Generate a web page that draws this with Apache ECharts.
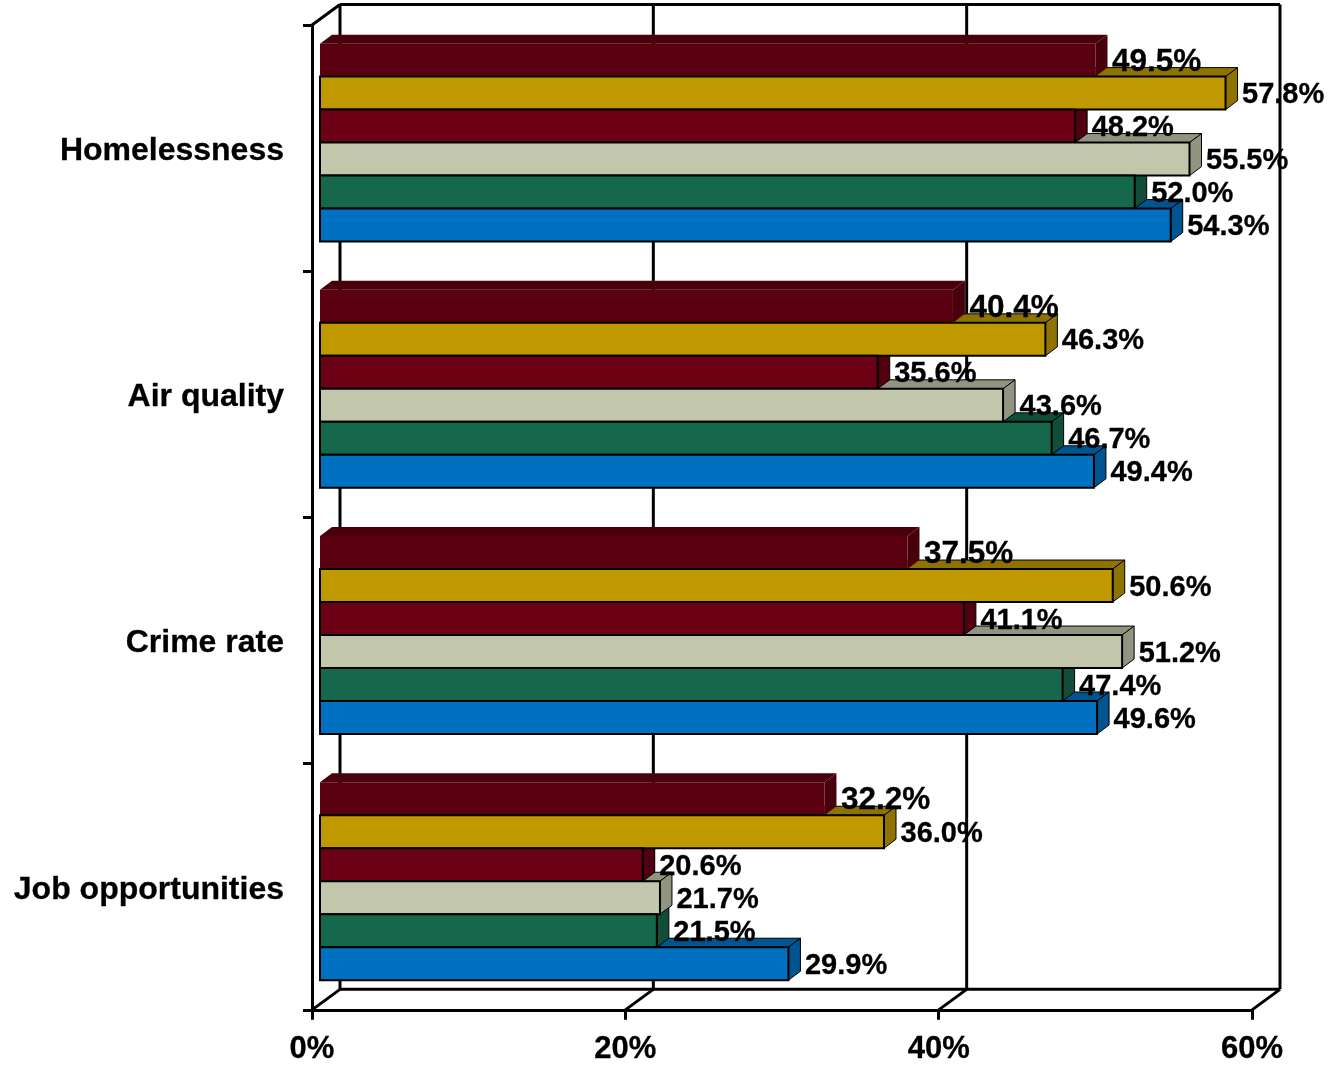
<!DOCTYPE html>
<html>
<head>
<meta charset="utf-8">
<style>html,body{margin:0;padding:0;background:#fff}#c{width:1332px;height:1065px}</style>
<script src="https://cdn.jsdelivr.net/npm/echarts@6/dist/echarts.min.js"></script>
</head>
<body>
<div id="c"></div>
<script>
const categories = ['Homelessness', 'Air quality', 'Crime rate', 'Job opportunities'];
const gridTicks = [0, 20, 40, 60];
const maroonValues = [49.5, 40.4, 37.5, 32.2];
const goldValues = [57.8, 46.3, 50.6, 36.0];
const redValues = [48.2, 35.6, 41.1, 20.6];
const beigeValues = [55.5, 43.6, 51.2, 21.7];
const greenValues = [52.0, 46.7, 47.4, 21.5];
const blueValues = [54.3, 49.4, 49.6, 29.9];

const seriesList = [
  { name: 'Series 1', values: maroonValues, front: '#5A0010', top: '#48000C', side: '#48000C', border: null, labelSize: 31.5 },
  { name: 'Series 2', values: goldValues, front: '#C09800', top: '#8F7300', side: '#8F7300', border: '#000', labelSize: 29 },
  { name: 'Series 3', values: redValues, front: '#6C0015', top: '#520010', side: '#520010', border: '#000', labelSize: 29 },
  { name: 'Series 4', values: beigeValues, front: '#C2C7AB', top: '#91957F', side: '#91957F', border: '#000', labelSize: 29 },
  { name: 'Series 5', values: greenValues, front: '#16684C', top: '#104E39', side: '#104E39', border: '#000', labelSize: 29 },
  { name: 'Series 6', values: blueValues, front: '#0070C0', top: '#005490', side: '#005490', border: '#000', labelSize: 29 }
];

const WALL_DX = 28, WALL_DY = 20.5;
const BAR_DX = 8, BAR_DY = 5.5, DEPTH_X = 12, DEPTH_Y = 9;
const BAR_RATIO = 0.134;
const FONT = '"Liberation Sans", Arial, sans-serif';

function wallRender(params, api) {
  const cs = params.coordSys;
  const v = api.value(0);
  const p = api.coord([v, 0]);
  const x = p[0];
  const bottom = cs.y + cs.height;
  const top = cs.y;
  const style = { stroke: '#000', lineWidth: 3, fill: null };
  const children = [
    { type: 'line', shape: { x1: x, y1: bottom, x2: x + WALL_DX, y2: bottom - WALL_DY }, style },
    { type: 'line', shape: { x1: x + WALL_DX, y1: top - WALL_DY, x2: x + WALL_DX, y2: bottom - WALL_DY }, style }
  ];
  if (params.dataIndex === 0) {
    const r = cs.x + cs.width + WALL_DX;
    children.push({ type: 'line', shape: { x1: x, y1: top, x2: x + WALL_DX, y2: top - WALL_DY }, style });
    children.push({ type: 'line', shape: { x1: x + WALL_DX, y1: top - WALL_DY, x2: r, y2: top - WALL_DY }, style });
    children.push({ type: 'line', shape: { x1: x + WALL_DX, y1: bottom - WALL_DY, x2: r, y2: bottom - WALL_DY }, style });
  }
  return { type: 'group', children };
}

function barRenderer(idx, s) {
  return function (params, api) {
    const v = api.value(0), c = api.value(1);
    const center = api.coord([0, c]);
    const band = api.size([0, 1])[1];
    const h = band * BAR_RATIO;
    const x0 = center[0] + BAR_DX;
    const x1 = api.coord([v, c])[0] + BAR_DX;
    const y0 = center[1] - BAR_DY + (idx - 3) * h;
    const y1 = y0 + h;
    const pts = (a) => ({ points: a });
    const edge = s.border ? { stroke: '#000', lineWidth: 1 } : { stroke: null };
    const frontEdge = s.border ? { stroke: '#000', lineWidth: 2 } : { stroke: null };
    return {
      type: 'group',
      children: [
        { type: 'polygon', z2: 10 + (5 - idx),
          shape: pts([[x0, y0], [x0 + DEPTH_X, y0 - DEPTH_Y], [x1 + DEPTH_X, y0 - DEPTH_Y], [x1, y0]]),
          style: Object.assign({ fill: s.top }, edge) },
        { type: 'polygon', z2: 10 + (5 - idx) + 0.5,
          shape: pts([[x1, y0], [x1 + DEPTH_X, y0 - DEPTH_Y], [x1 + DEPTH_X, y1 - DEPTH_Y], [x1, y1]]),
          style: Object.assign({ fill: s.side }, edge) },
        { type: 'rect', z2: 30 + idx,
          shape: { x: x0, y: y0, width: x1 - x0, height: h },
          style: Object.assign({ fill: s.front }, frontEdge) },
        { type: 'text', z2: 60,
          x: x1 + DEPTH_X + 4.5, y: (y0 + y1) / 2 + 2,
          style: { text: v.toFixed(1) + '%', fill: '#000', stroke: '#000', lineWidth: 0.3,
                   font: 'bold ' + s.labelSize + 'px ' + FONT,
                   textAlign: 'left', textVerticalAlign: 'middle' } }
      ]
    };
  };
}

const series = [{
  type: 'custom', name: 'wall', silent: true, z: 1,
  coordinateSystem: 'cartesian2d',
  data: gridTicks.map(t => [t]),
  encode: { x: 0 },
  renderItem: wallRender
}];
seriesList.forEach((s, i) => {
  series.push({
    type: 'custom', name: s.name, z: 3, silent: true,
    coordinateSystem: 'cartesian2d',
    data: s.values.map((v, c) => [v, c]),
    encode: { x: 0, y: 1 },
    renderItem: barRenderer(i, s)
  });
});

const chart = echarts.init(document.getElementById('c'), null, { renderer: 'canvas' });
chart.setOption({
  animation: false,
  backgroundColor: '#fff',
  grid: { left: 312, right: 80, top: 25, bottom: 55, containLabel: false },
  xAxis: {
    type: 'value', min: 0, max: 60, interval: 20,
    axisLine: { show: true, lineStyle: { color: '#000', width: 3 } },
    axisTick: { show: true, length: 10, lineStyle: { color: '#000', width: 3 } },
    splitLine: { show: false },
    axisLabel: { formatter: '{value}%', color: '#000', fontFamily: FONT, fontWeight: 'bold', fontSize: 31, margin: 24, hideOverlap: false, textBorderColor: '#000', textBorderWidth: 0.3 }
  },
  yAxis: {
    type: 'category', inverse: true, data: categories,
    axisLine: { show: true, onZero: false, lineStyle: { color: '#000', width: 3 } },
    axisTick: { show: true, length: 9, lineStyle: { color: '#000', width: 3 } },
    splitLine: { show: false },
    axisLabel: { color: '#000', fontFamily: FONT, fontWeight: 'bold', fontSize: 32, margin: 28, interval: 0, verticalAlign: 'top', lineHeight: 6, textBorderColor: '#000', textBorderWidth: 0.3 }
  },
  series
});
</script>
</body>
</html>
